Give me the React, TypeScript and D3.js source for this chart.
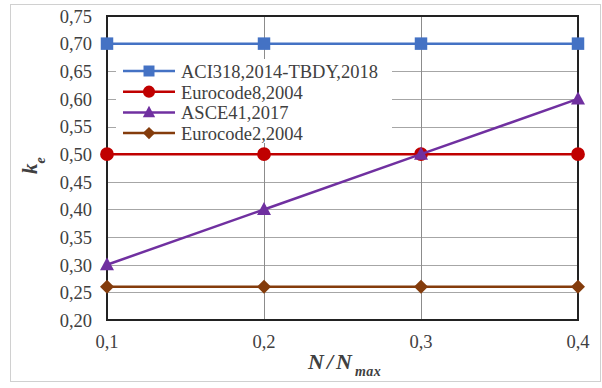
import React from "react";
import * as d3 from "d3";

const categories = ["0,1", "0,2", "0,3", "0,4"];
const yTicks = [0.2, 0.25, 0.3, 0.35, 0.4, 0.45, 0.5, 0.55, 0.6, 0.65, 0.7, 0.75];
const seriesNames = ["ACI318,2014-TBDY,2018", "Eurocode8,2004", "ASCE41,2017", "Eurocode2,2004"];
const aciValues = [0.7, 0.7, 0.7, 0.7];
const ec8Values = [0.5, 0.5, 0.5, 0.5];
const asceValues = [0.3, 0.4, 0.5, 0.6];
const ec2Values = [0.26, 0.26, 0.26, 0.26];
const colors = ["#4472C4", "#C00000", "#7030A0", "#843C0C"];
const markers = ["square", "circle", "triangle", "diamond"];

const W = 602, H = 388;
const left = 107, right = 578, top = 16, bottom = 320;
const font = "Liberation Serif, DejaVu Serif, serif";

function markerPath(type: string) {
  if (type === "square") return d3.symbol().type(d3.symbolSquare).size(156)() as string;
  if (type === "circle") return d3.symbol().type(d3.symbolCircle).size(150)() as string;
  if (type === "triangle") return "M0,-7.5L7,5.5L-7,5.5Z";
  return "M0,-7L7,0L0,7L-7,0Z";
}

export default function App() {
  const x = d3.scalePoint<string>().domain(categories).range([left, right]);
  const y = d3.scaleLinear().domain([0.2, 0.75]).range([bottom, top]);
  const allSeries = [aciValues, ec8Values, asceValues, ec2Values];
  const line = d3
    .line<number>()
    .x((_, i) => x(categories[i]) as number)
    .y((d) => y(d));
  const drawOrder = [3, 1, 2, 0];
  const legX = 123, legY0 = 71, legDy = 20.7;
  const tickStyle = { fontFamily: font, fontSize: "18.5px" };
  return (
    <svg width={W} height={H} style={{ position: "absolute", left: 0, top: 0, background: "#fff" }}>
      <rect x={10.5} y={4.5} width={590} height={377} fill="#fff" stroke="#d0d0d0" strokeWidth={1} />
      {yTicks.map((t) => (
        <line key={"gy" + t} x1={left} x2={right} y1={Math.round(y(t)) + 0.5} y2={Math.round(y(t)) + 0.5} stroke="#a6a6a6" strokeWidth={1} />
      ))}
      {categories.map((c) => (
        <line key={"gx" + c} x1={(x(c) as number) + 0.5} x2={(x(c) as number) + 0.5} y1={top} y2={bottom} stroke="#8c8c8c" strokeWidth={1} />
      ))}
      <rect x={116} y={59} width={276} height={84} fill="#fff" />
      <rect x={left} y={top} width={right - left} height={bottom - top} fill="none" stroke="#222" strokeWidth={2} />
      {yTicks.map((t) => (
        <text key={"yt" + t} x={92} y={y(t)} dy="0.37em" textAnchor="end" style={tickStyle} fill="#404040">
          {t.toFixed(2).replace(".", ",")}
        </text>
      ))}
      {categories.map((c) => (
        <text key={"xt" + c} x={x(c) as number} y={348} textAnchor="middle" style={tickStyle} fill="#404040">
          {c}
        </text>
      ))}
      {drawOrder.map((si) => (
        <g key={"s" + si}>
          <path d={line(allSeries[si]) as string} fill="none" stroke={colors[si]} strokeWidth={2.5} />
          {allSeries[si].map((v, i) => (
            <path key={i} d={markerPath(markers[si])} transform={`translate(${x(categories[i])},${y(v)})`} fill={colors[si]} />
          ))}
        </g>
      ))}
      {seriesNames.map((n, i) => {
        const ly = legY0 + i * legDy;
        return (
          <g key={"l" + i}>
            <line x1={legX} x2={legX + 52} y1={ly} y2={ly} stroke={colors[i]} strokeWidth={2.5} />
            <path d={markerPath(markers[i])} transform={`translate(${legX + 26},${ly}) scale(0.88)`} fill={colors[i]} />
            <text x={181} y={ly} dy="0.37em" style={tickStyle} fill="#404040">
              {n}
            </text>
          </g>
        );
      })}
      <text x={308} y={369} style={{ fontFamily: font, fontSize: "22px", letterSpacing: "3px" }} fontWeight="bold" fontStyle="italic" fill="#404040">
        N/N<tspan dy={7} style={{ fontSize: "14px", letterSpacing: "0.5px" }}>max</tspan>
      </text>
      <text transform="translate(37,174) rotate(-90)" style={{ fontFamily: font, fontSize: "21px" }} fontWeight="bold" fontStyle="italic" fill="#404040">
        k<tspan dy={8} style={{ fontSize: "14px" }}>e</tspan>
      </text>
    </svg>
  );
}
